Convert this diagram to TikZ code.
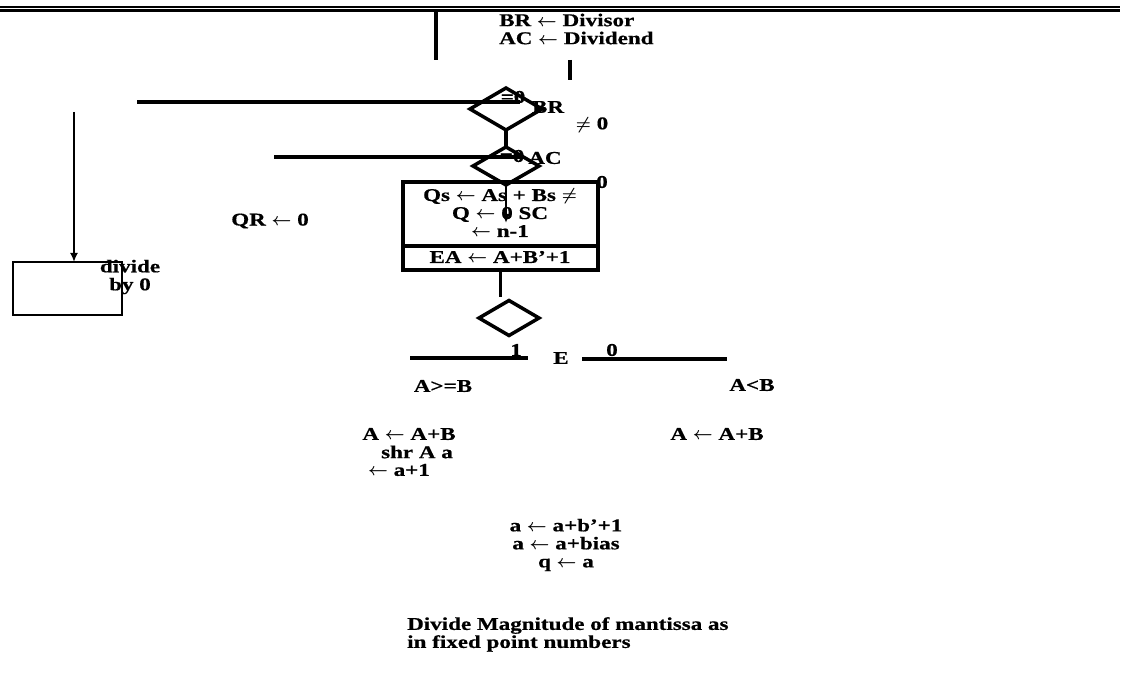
\documentclass[tikz,border=0pt]{standalone}
\usepackage{fontspec}
\setmainfont{Liberation Serif}[FakeStretch=1.28,FakeBold=0.6]
\usetikzlibrary{arrows.meta,positioning,shapes.geometric}
\newcommand{\la}{\ensuremath{\leftarrow}}
\tikzset{
  decision/.style={diamond, draw, line width=3.5pt, inner sep=0pt, outer sep=0pt},
  opbox/.style={draw, line width=3.5pt, inner sep=0pt, outer sep=0pt},
  txt/.style={font=\fontsize{18}{18}\selectfont\bfseries\boldmath, inner sep=0pt, align=center},
  rule/.style={line width=3.5pt},
  flow/.style={-{Latex[length=9pt,width=8pt]}, line width=2.5pt}
}
\begin{document}
\begin{tikzpicture}[x=1pt,y=-1pt]
\useasboundingbox (0,0) rectangle (1123,684);
% header rules
\draw[line width=1.5pt] (0,7) -- (1120,7);
\draw[rule] (0,10.5) -- (1120,10.5);

% start
\node[txt, align=left, anchor=west] (init) at (499,29) {BR \la{} Divisor\\AC \la{} Dividend};
\coordinate (ltop) at (436,10);
\coordinate (lbot) at (436,60);
\draw[rule] (ltop) -- (lbot);
\coordinate (itop) at (570,60);
\coordinate (ibot) at (570,80);
\draw[rule] (itop) -- (ibot);

% test BR
\node[decision, minimum width=72pt, minimum height=42pt] (br) at (506,109) {};
\node[txt] (breq) at (513,97) {=0};
\node[txt] (brlbl) at (548,107) {BR};
\node[txt] (brne) at (592,125) {$\neq$ 0};
\coordinate (brend) at (137,102);
\coordinate (brout) at (520,102);
\draw[rule] (brend) -- (brout);

% test AC
\node[decision, minimum width=66pt, minimum height=38pt] (ac) at (506,166) {};
\draw[rule] (br.south) -- (ac.north);
\node[txt] (aceq) at (512,156) {=0};
\node[txt] (aclbl) at (545,158) {AC};
\coordinate (acend) at (274,157);
\coordinate (acout) at (520,157);
\draw[rule] (acend) -- (acout);
\node[txt] (qr) at (270,221) {QR \la{} 0};

% sign and subtract
\node[opbox, minimum width=195pt, minimum height=88pt] (ops) at (500.5,226) {};
\draw[rule] (ops.west |- 0,246) -- (ops.east |- 0,246);
\node[txt] (sign) at (500,213) {Qs \la{} As + Bs $\neq$\\Q \la{} 0 SC\\\la{} n-1};
\node[txt] (sub) at (500,257) {EA \la{} A+B’+1};
\node[txt] (acne) at (602,182) {0};
\coordinate (acin) at (506,223);
\draw[flow] (ac.south) -- (acin);

% divide by zero
\node[opbox, line width=2.5pt, minimum width=109pt, minimum height=53pt] (dz) at (67.5,288.5) {};
\coordinate (dzin) at (74,112);
\draw[flow] (dzin) -- (dzin |- dz.north);
\node[txt] (dzlbl) at (130,277) {divide\\by 0};

% test E
\node[decision, minimum width=60pt, minimum height=35pt] (cmp) at (509,318) {};
\coordinate (opsout) at (ops.south |- 0,297);
\draw[rule] (ops.south) -- (opsout);
\coordinate (ge) at (410,358);
\coordinate (geend) at (528,358);
\draw[rule] (ge) -- (geend);
\coordinate (lt) at (582,359);
\coordinate (ltend) at (727,359);
\draw[rule] (lt) -- (ltend);
\node[txt] (one) at (516,350) {1};
\node[txt] (elbl) at (561,358) {E};
\node[txt] (zero) at (612,350) {0};
\node[txt] (gelbl) at (443,386) {A>=B};
\node[txt] (ltlbl) at (752,385) {A<B};

% branches
\node[txt] (geadd) at (409,434) {A \la{} A+B};
\node[txt] (geshr) at (417,452) {shr A a};
\node[txt] (geinc) at (399,470) {\la{} a+1};
\node[txt] (ltadd) at (717,434) {A \la{} A+B};

% exponent
\node[txt] (expo) at (566,545) {a \la{} a+b’+1\\a \la{} a+bias\\q \la{} a};

% note
\node[txt, align=left, anchor=north west] (note) at (407,617) {Divide Magnitude of mantissa as\\in fixed point numbers};
\end{tikzpicture}
\end{document}
